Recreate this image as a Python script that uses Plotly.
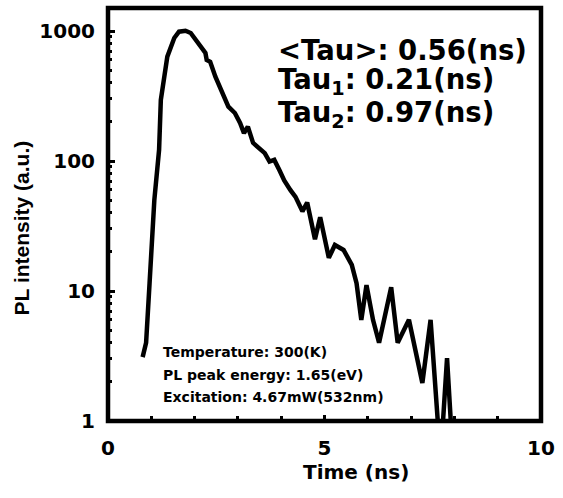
import plotly.graph_objects as go

# Time-resolved PL decay (time in ns, intensity in a.u.)
time_ns = [0.80, 0.88, 0.96, 1.03, 1.07, 1.18, 1.22, 1.37, 1.53, 1.64, 1.79, 1.91,
           2.02, 2.13, 2.25, 2.28, 2.36, 2.48, 2.59, 2.70, 2.78, 2.93, 3.05, 3.14,
           3.23, 3.35, 3.50, 3.62, 3.73, 3.84, 3.96, 4.07, 4.21, 4.33, 4.49, 4.60,
           4.78, 4.90, 5.10, 5.24, 5.44, 5.63, 5.74, 5.85, 5.97, 6.12, 6.26, 6.54,
           6.69, 6.95, 7.26, 7.45, 7.68, 7.83, 7.97]
intensity = [3.1, 4.0, 11.5, 31, 50, 122, 295, 635, 884, 988, 1005, 966,
             853, 757, 677, 598, 580, 445, 364, 295, 262, 234, 196, 164,
             184, 138, 126, 115, 99, 102, 85, 71, 60, 53, 41, 48,
             25, 37, 18, 22.6, 20.7, 15.9, 11.5, 6.0, 11.1, 6.0, 4.0, 10.7,
             4.0, 6.0, 1.96, 6.0, 0.5, 3.05, 0.5]

x_ticks = [0, 5, 10]
y_ticks = [1, 10, 100, 1000]
y_minor = [m * d for d in (1, 10, 100, 1000) for m in range(2, 10)]

fit_lines = ["&lt;Tau&gt;: 0.56(ns)", "Tau<sub>1</sub>: 0.21(ns)", "Tau<sub>2</sub>: 0.97(ns)"]
cond_lines = ["Temperature: 300(K)", "PL peak energy: 1.65(eV)", "Excitation: 4.67mW(532nm)"]

W, H = 563, 498
L, R, T, B = 108, 15, 8, 77
pw, ph = W - L - R, H - T - B


def px(x):
    return (x - L) / pw


def py(y):
    return (H - B - y) / ph


wide = "DejaVu Sans"
arial = "Liberation Sans, Arial"

fig = go.Figure()
fig.add_trace(go.Scatter(
    x=time_ns, y=intensity, mode="lines",
    line=dict(color="black", width=4.5, shape="linear"),
    showlegend=False, hoverinfo="skip",
))

fig.update_xaxes(
    range=[0, 10], tickvals=x_ticks, ticktext=[str(v) for v in x_ticks],
    ticks="inside", ticklen=6, tickwidth=3, tickcolor="black",
    minor=dict(dtick=1, tick0=0, ticks="inside", ticklen=5, tickwidth=3, tickcolor="black"),
    showline=False, showgrid=False, zeroline=False,
    tickfont=dict(family=wide, size=20, color="black", weight="bold"),
    ticklabelstandoff=13,
)
fig.update_yaxes(
    type="log", range=[0, 3.177], tickvals=y_ticks, ticktext=[str(v) for v in y_ticks],
    ticks="inside", ticklen=7, tickwidth=3, tickcolor="black",
    minor=dict(tickvals=y_minor, ticks="inside", ticklen=4, tickwidth=3, tickcolor="black"),
    showline=False, showgrid=False, zeroline=False,
    tickfont=dict(family=wide, size=20, color="black", weight="bold"),
    ticklabelstandoff=12,
)

# plot frame
fig.add_shape(type="rect", xref="paper", yref="paper", x0=0, x1=1, y0=0, y1=1,
              line=dict(color="black", width=4.5), layer="above")

ann = []
# axis titles
ann.append(dict(text="Time (ns)", x=px(360), y=py(472), xref="paper", yref="paper",
                showarrow=False, xanchor="center", yanchor="middle",
                font=dict(family=wide, size=20, color="black", weight="bold")))
ann.append(dict(text="PL intensity (a.u.)", x=px(20), y=py(228), xref="paper", yref="paper",
                showarrow=False, xanchor="center", yanchor="middle", textangle=-90,
                font=dict(family=arial, size=21, color="black", weight="bold")))
# lifetime fit results
for i, t in enumerate(fit_lines):
    ann.append(dict(text=t, x=px(279), y=py(50 + 32 * i), xref="paper", yref="paper",
                    showarrow=False, xanchor="left", yanchor="middle",
                    font=dict(family=wide, size=27.5, color="black", weight="bold")))
# measurement conditions
for i, t in enumerate(cond_lines):
    ann.append(dict(text=t, x=px(162), y=py(352 + 22.5 * i), xref="paper", yref="paper",
                    showarrow=False, xanchor="left", yanchor="middle",
                    font=dict(family=wide, size=14, color="black", weight="bold")))

fig.update_layout(
    width=W, height=H,
    margin=dict(l=L, r=R, t=T, b=B, pad=0),
    paper_bgcolor="white", plot_bgcolor="white",
    annotations=ann,
    showlegend=False,
)

fig.write_html("out.html")
